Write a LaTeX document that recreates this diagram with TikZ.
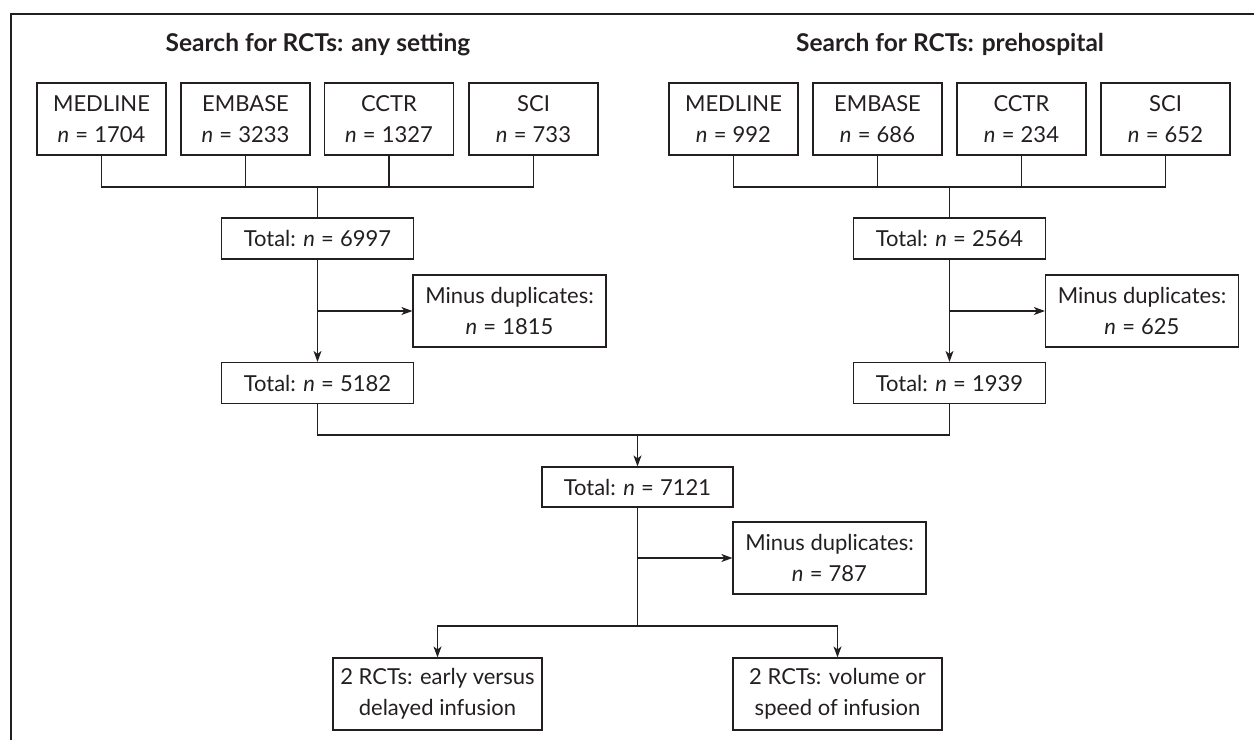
\documentclass[tikz,border=0pt]{standalone}
\usepackage{fontspec}
\setmainfont{Lato}
\usetikzlibrary{arrows.meta,calc}
\definecolor{ink}{HTML}{231F20}
\newcommand\myeq{\hspace{0.28em}=\hspace{0.28em}}
\begin{document}
\begin{tikzpicture}[x=1pt,y=-1pt,
  every node/.style={font=\fontsize{22}{31}\selectfont, text=ink},
  box/.style={draw=ink, line width=1.2pt, rectangle, align=center, inner sep=0pt},
  dbbox/.style={box, minimum width=129pt, minimum height=72pt},
  totbox/.style={box, minimum width=192pt, minimum height=41pt},
  minbox/.style={box, minimum width=193pt, minimum height=72pt},
  resbox/.style={box, minimum width=209pt, minimum height=72pt},
  ttl/.style={font=\fontsize{24.5}{30}\selectfont\bfseries, anchor=base},
  conn/.style={draw=ink, line width=1.2pt},
  arr/.style={conn, -{Stealth[length=11pt,width=8pt,inset=3pt]}}]
\useasboundingbox (0,0) rectangle (1254,740);
\draw[draw=ink, line width=2pt] (11,740) -- (11,14) -- (1254,14);

\node[ttl] (tl) at (318,51) {Search for RCTs: any setting};
\node[ttl] (tr) at (950,51) {Search for RCTs: prehospital};

% left databases
\node[dbbox] (mL) at (101.5,119) {MEDLINE\\\textit{n}\myeq 1704};
\node[dbbox] (eL) at (245.5,119) {EMBASE\\\textit{n}\myeq 3233};
\node[dbbox] (cL) at (389,119) {CCTR\\\textit{n}\myeq 1327};
\node[dbbox] (sL) at (533.5,119) {SCI\\\textit{n}\myeq 733};
% right databases
\node[dbbox] (mR) at (733.5,119) {MEDLINE\\\textit{n}\myeq 992};
\node[dbbox] (eR) at (877.5,119) {EMBASE\\\textit{n}\myeq 686};
\node[dbbox] (cR) at (1021.5,119) {CCTR\\\textit{n}\myeq 234};
\node[dbbox] (sR) at (1165.5,119) {SCI\\\textit{n}\myeq 652};

\node[totbox] (tL1) at (317.5,238.5) {Total: \textit{n}\myeq 6997};
\node[totbox] (tR1) at (949.5,238.5) {Total: \textit{n}\myeq 2564};
\node[minbox] (dL) at (509.5,311) {Minus duplicates:\\\textit{n}\myeq 1815};
\node[minbox] (dR) at (1142,311) {Minus duplicates:\\\textit{n}\myeq 625};
\node[totbox] (tL2) at (317.5,383) {Total: \textit{n}\myeq 5182};
\node[totbox] (tR2) at (949.5,383) {Total: \textit{n}\myeq 1939};

\node[totbox, minimum width=191pt, minimum height=40pt] (tM) at (637.5,487) {Total: \textit{n}\myeq 7121};
\node[minbox] (dM) at (829.5,558) {Minus duplicates:\\\textit{n}\myeq 787};
\node[resbox] (b1) at (437.5,694) {2 RCTs: early versus\\delayed infusion};
\node[resbox] (b2) at (837.5,694) {2 RCTs: volume or\\speed of infusion};

\coordinate (jL) at (317.5,187);
\coordinate (jR) at (949.5,187);
\coordinate (jM) at (637.5,435);
\coordinate (jS) at (637.5,626);

% left bracket
\draw[conn] (mL.south) |- (sL.south |- jL) -- (sL.south);
\draw[conn] (eL.south) -- (eL.south |- jL);
\draw[conn] (cL.south) -- (cL.south |- jL);
\draw[conn] (jL) -- (tL1.north);
% right bracket
\draw[conn] (mR.south) |- (sR.south |- jR) -- (sR.south);
\draw[conn] (eR.south) -- (eR.south |- jR);
\draw[conn] (cR.south) -- (cR.south |- jR);
\draw[conn] (jR) -- (tR1.north);

\draw[arr] (tL1.south) -- (tL2.north);
\draw[arr] (tL1.south |- dL.west) -- (dL.west);
\draw[arr] (tR1.south) -- (tR2.north);
\draw[arr] (tR1.south |- dR.west) -- (dR.west);

\draw[conn] (tL2.south) |- (jM) -| (tR2.south);
\draw[arr] (jM) -- (tM.north);
\draw[arr] (tM.south |- dM.west) -- (dM.west);
\draw[conn] (tM.south) -- (jS);
\draw[arr] (jS) -| (b1.north);
\draw[arr] (jS) -| (b2.north);
\end{tikzpicture}
\end{document}
